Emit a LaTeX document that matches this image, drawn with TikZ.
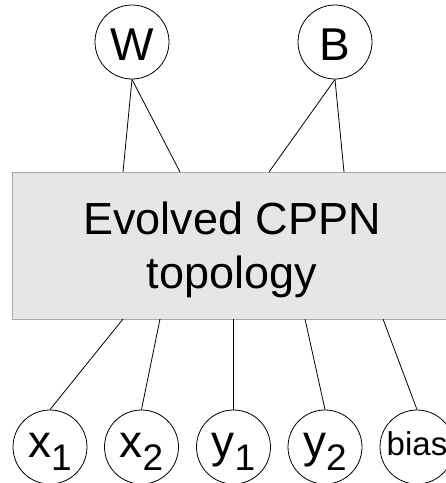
\documentclass[tikz,border=0pt]{standalone}
\usepackage{fontspec}
\setmainfont{Liberation Sans}
% subscript set a little smaller and lowered below the baseline
\newcommand\lowidx[1]{\raisebox{-13pt}{\fontsize{37}{40}\selectfont #1}}
\definecolor{boxfill}{HTML}{E6E6E6}
\definecolor{boxedge}{HTML}{A8A8A8}
\begin{document}
\begin{tikzpicture}[x=1pt,y=-1pt,
  unit/.style={circle, draw=black, line width=0.8pt, minimum size=74pt,
    inner sep=0pt, font=\fontsize{46}{54}\selectfont},
  body/.style={rectangle, draw=boxedge, fill=boxfill, line width=0.9pt,
    minimum width=440pt, minimum height=147pt, inner sep=0pt},
  lbl/.style={inner sep=0pt, font=\fontsize{45}{54}\selectfont},
  link/.style={draw=black, line width=0.8pt}]
\useasboundingbox (0,0) rectangle (446,483);

% the evolved network body
\node[body, anchor=north west] (box) at (12,172) {};
\node[lbl, anchor=base] (l1) at (232,234) {Evolved CPPN};
\node[lbl, anchor=base] (l2) at (232,288) {topology};

% outputs
\node[unit] (W) at (132,42) {\raisebox{-18pt}[0pt][0pt]{W}};
\node[unit] (B) at (335,42) {\raisebox{-18pt}[0pt][0pt]{B}};

% inputs
\node[unit] (x1) at (50,447) {\raisebox{-10pt}[0pt][0pt]{x\lowidx{1}}};
\node[unit] (x2) at (141.5,447) {\raisebox{-10pt}[0pt][0pt]{x\lowidx{2}}};
\node[unit] (y1) at (233.5,447) {\raisebox{-10pt}[0pt][0pt]{y\lowidx{1}}};
\node[unit] (y2) at (325,447) {\raisebox{-10pt}[0pt][0pt]{y\lowidx{2}}};
\node[unit] (bias) at (417,447) {\raisebox{-8pt}[0pt][0pt]{\fontsize{33}{38}\selectfont bias}};

% attachment points on the body edges
\coordinate (wa) at (123,172);
\coordinate (wb) at (180,172);
\coordinate (ba) at (269,172);
\coordinate (bb) at (344,172);
\coordinate (q1) at (123,319);
\coordinate (q2) at (160,319);
\coordinate (q3) at (233.5,319);
\coordinate (q4) at (305,319);
\coordinate (q5) at (383,319);

\draw[link] (W.south) -- (wa);
\draw[link] (W.south) -- (wb);
\draw[link] (B.south) -- (ba);
\draw[link] (B.south) -- (bb);
\draw[link] (q1) -- (x1.north);
\draw[link] (q2) -- (x2.north);
\draw[link] (q3) -- (y1.north);
\draw[link] (q4) -- (y2.north);
\draw[link] (q5) -- (bias.north);
\end{tikzpicture}
\end{document}
